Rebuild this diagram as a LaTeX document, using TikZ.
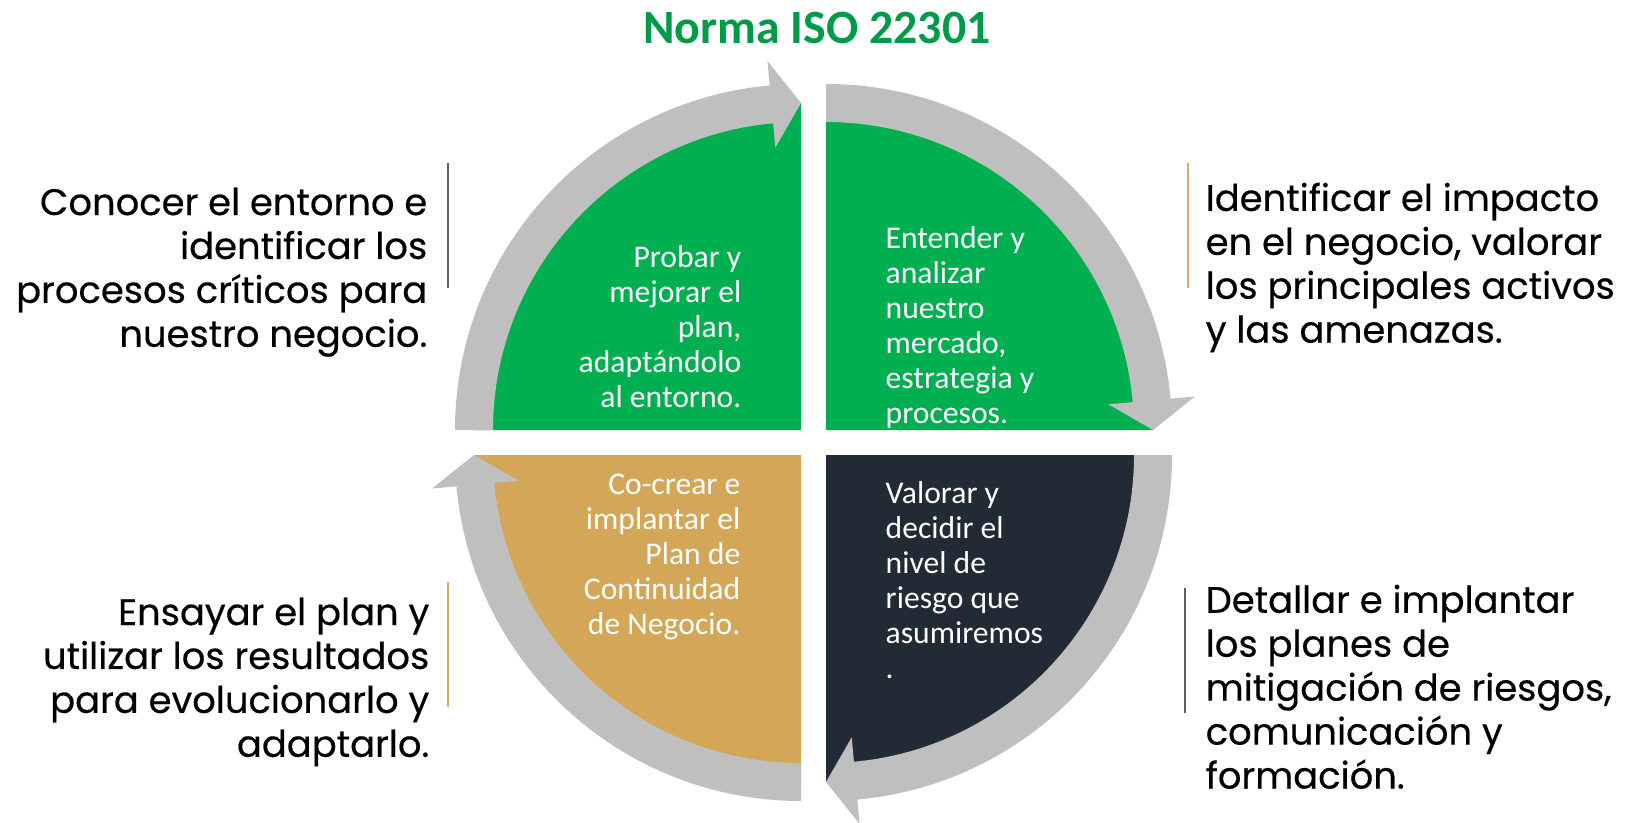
\documentclass[tikz,border=0pt]{standalone}
\usepackage{fontspec}
\setmainfont{Carlito}
\newfontfamily\sidefont[FakeBold=0.4]{Poppins}
\usetikzlibrary{positioning,calc}
\definecolor{isogreen}{RGB}{0,176,80}
\definecolor{titlegreen}{RGB}{0,155,72}
\definecolor{isonavy}{RGB}{34,42,53}
\definecolor{isogold}{RGB}{211,166,88}
\definecolor{arrowgray}{RGB}{191,191,191}
\definecolor{rulegray}{RGB}{95,95,95}
\definecolor{rulegold}{RGB}{214,172,110}
\tikzset{
  cyclearrow/.style={fill=arrowgray, draw=none},
  innertext/.style={inner sep=0pt, text=white, font=\fontsize{9}{9.96}\selectfont},
  sidetext/.style={inner sep=0pt, text=black, font=\sidefont\fontsize{10.5}{12.5}\selectfont},
  titletext/.style={inner sep=0pt, text=titlegreen, anchor=base, font=\bfseries\fontsize{13.6}{16}\selectfont},
  sepline/.style={line width=0.6pt}
}

\begin{document}
\begin{tikzpicture}
    \useasboundingbox (0,0) rectangle (16.26,8.22);
    \node[coordinate] (tl) at (8.01,3.92) {};
    \node[coordinate] (tr) at (8.26,3.92) {};
    \node[coordinate] (br) at (8.26,3.67) {};
    \node[coordinate] (bl) at (8.01,3.67) {};
    % quarters and the grey arrows round them
    \foreach \corner/\from/\to/\col in {tl/180/90/isogreen, tr/90/0/isogreen, br/0/-90/isonavy, bl/270/180/isogold}{
      \fill[\col] (\corner) -- ($(\corner)+(\from:3.27)$) arc[start angle=\from, end angle=\to, radius=3.27] -- cycle;
      \fill[cyclearrow] ($(\corner)+(\from:3.46)$) arc[start angle=\from, end angle=\to+5.2, radius=3.46]
        -- ($(\corner)+(\to+5.2:3.705)$) -- ($(\corner)+(\to:3.27)$) -- ($(\corner)+(\to+5.2:2.835)$)
        -- ($(\corner)+(\to+5.2:3.08)$) arc[start angle=\to+5.2, end angle=\from, radius=3.08] -- cycle;
    }
    %
    \node[titletext] (title) at (8.17,7.79) {Norma ISO 22301};
    \node[innertext, align=right, anchor=north east] (probar) at (7.42,5.77) {Probar y\\mejorar el\\plan,\\adaptándolo\\al entorno.};
    \node[innertext, align=left, anchor=north west] (entender) at (8.85,5.96) {Entender y\\analizar\\nuestro\\mercado,\\estrategia y\\procesos.};
    \node[innertext, align=left, anchor=north west] (valorar) at (8.85,3.41) {Valorar y\\decidir el\\nivel de\\riesgo que\\asumiremos\\.};
    \node[innertext, align=right, anchor=north east] (cocrear) at (7.41,3.49) {Co-crear e\\implantar el\\Plan de\\Continuidad\\de Negocio.};
    %
    \node[sidetext, align=right, anchor=north east] (conocer) at (4.28,6.35) {Conocer el entorno e\\identificar los\\procesos críticos para\\nuestro negocio.};
    \node[sidetext, align=left, anchor=north west] (impacto) at (12.05,6.40) {Identificar el impacto\\en el negocio, valorar\\los principales activos\\y las amenazas.};
    \node[sidetext, align=right, anchor=north east] (ensayar) at (4.30,2.25) {Ensayar el plan y\\utilizar los resultados\\para evolucionarlo y\\adaptarlo.};
    \node[sidetext, align=left, anchor=north west] (detallar) at (12.05,2.38) {Detallar e implantar\\los planes de\\mitigación de riesgos,\\comunicación y\\formación.};
    % thin rules beside the texts
    \draw[sepline, rulegray] (4.48,6.59) -- (4.48,5.34);
    \draw[sepline, rulegold] (11.88,6.59) -- (11.88,5.34);
    \draw[sepline, rulegold] (4.48,2.40) -- (4.48,1.15);
    \draw[sepline, rulegray] (11.85,2.34) -- (11.85,1.09);
\end{tikzpicture}
\end{document}
